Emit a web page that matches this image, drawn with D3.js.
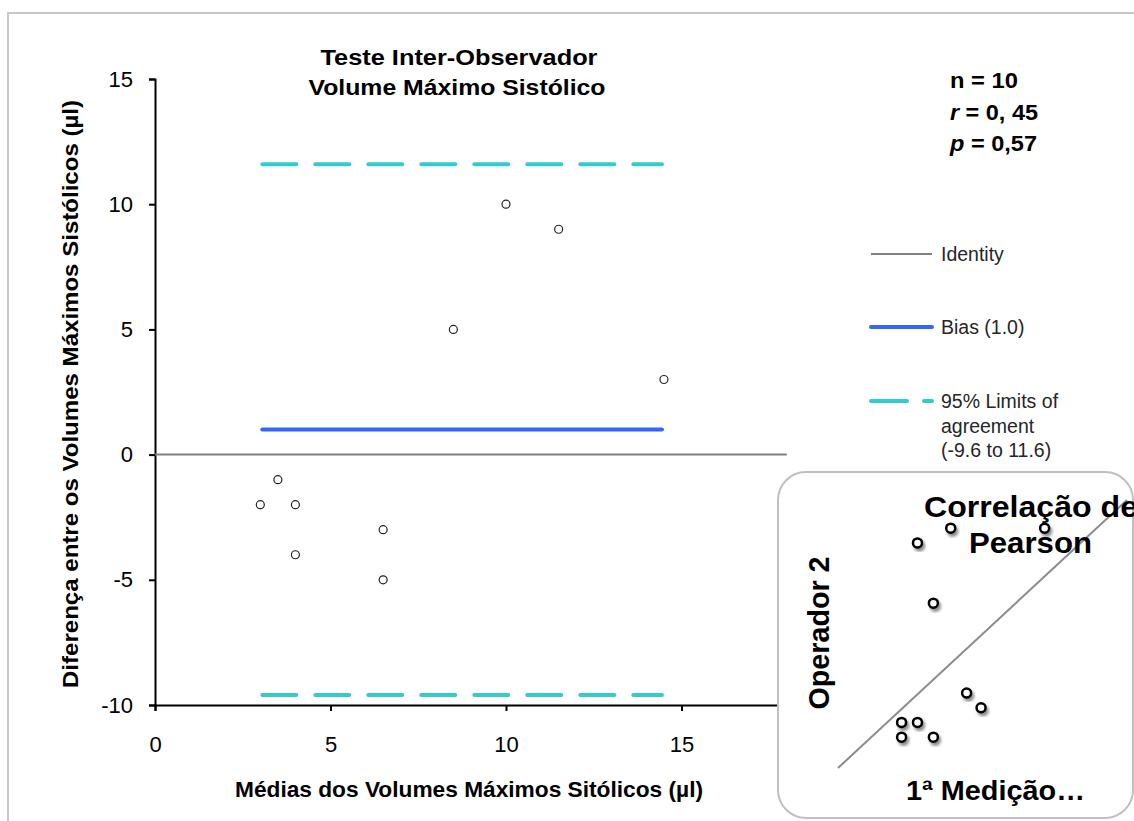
<!DOCTYPE html>
<html>
<head>
<meta charset="utf-8">
<script src="https://cdn.jsdelivr.net/npm/d3@7"></script>
<style>
  body { margin: 0; background: #fff; }
  text { font-family: "Liberation Sans", Arial, sans-serif; }
</style>
</head>
<body>
<div class="chart"></div>
<script>
// setup svg dimensions
var svgWidth = 1134;
var svgHeight = 821;

// Bland-Altman data: means and differences
var means = [3, 3.5, 4, 4, 6.5, 6.5, 8.5, 10, 11.5, 14.5];
var diffs = [-2, -1, -2, -4, -3, -5, 5, 10, 9, 3];
var xTicks = [0, 5, 10, 15];
var yTicks = [-10, -5, 0, 5, 10, 15];
var bias = 1.0;
var lowerLimit = -9.6;
var upperLimit = 11.6;
var statsLines = [["n", " = 10"], ["r", " = 0, 45"], ["p", " = 0,57"]];

// inset correlation plot (operator 1 vs operator 2)
var op1 = [5.5, 7.8, 14.3, 6.6, 8.9, 9.9, 4.4, 5.5, 4.4, 6.6];
var op2 = [16.8, 17.9, 17.9, 12.3, 5.6, 4.5, 3.4, 3.4, 2.3, 2.3];

var svg = d3.select(".chart")
  .append("svg")
  .attr("width", svgWidth)
  .attr("height", svgHeight);

// bold labels in the original are wider than Liberation Sans, so stretch them
function boldText(sel, size, len) {
  return sel.style("font-size", size + "px")
    .style("font-weight", "bold")
    .attr("textLength", len)
    .attr("lengthAdjust", "spacingAndGlyphs");
}

// outer frame
svg.append("rect")
  .attr("x", 8).attr("y", 13)
  .attr("width", 1140).attr("height", 820)
  .attr("fill", "#fff")
  .attr("stroke", "#c8c8c8")
  .attr("stroke-width", 2);

// scales
var xScale = d3.scaleLinear().domain([0, 20]).range([155, 857]);
var yScale = d3.scaleLinear().domain([-10, 15]).range([705, 79]);

var chartGroup = svg.append("g");

// axes
var leftAxis = d3.axisLeft(yScale).tickValues(yTicks).tickSize(6).tickPadding(16)
  .tickFormat(function(d) { return d < 0 ? "-" + Math.abs(d) : d; });
var bottomAxis = d3.axisBottom(xScale).tickValues(xTicks).tickSize(6).tickPadding(25);

var yAxis = chartGroup.append("g")
  .attr("transform", "translate(" + xScale(0) + ",0)")
  .call(leftAxis);
var xAxis = chartGroup.append("g")
  .attr("transform", "translate(0," + yScale(-10) + ")")
  .call(bottomAxis);

[xAxis, yAxis].forEach(function(ax) {
  ax.select(".domain").attr("stroke", "#000").attr("stroke-width", 2);
  ax.selectAll(".tick line").attr("stroke", "#000").attr("stroke-width", 2);
  ax.selectAll(".tick text")
    .attr("fill", "#000")
    .style("font-size", "22px")
    .style("font-family", "'Liberation Sans', Arial, sans-serif");
});

// identity line at 0
chartGroup.append("line")
  .attr("x1", xScale(0)).attr("x2", xScale(18))
  .attr("y1", yScale(0)).attr("y2", yScale(0))
  .attr("stroke", "#808080")
  .attr("stroke-width", 2);

var xMin = d3.min(means), xMax = d3.max(means);

// limits of agreement
[upperLimit, lowerLimit].forEach(function(v) {
  chartGroup.append("line")
    .attr("x1", xScale(xMin) + 2).attr("x2", xScale(xMax) - 2)
    .attr("y1", yScale(v)).attr("y2", yScale(v))
    .attr("stroke", "#33cccc")
    .attr("stroke-width", 4)
    .attr("stroke-linecap", "round")
    .attr("stroke-dasharray", "34,19");
});

// bias line
chartGroup.append("line")
  .attr("x1", xScale(xMin) + 2).attr("x2", xScale(xMax) - 2)
  .attr("y1", yScale(bias)).attr("y2", yScale(bias))
  .attr("stroke", "#3366ff")
  .attr("stroke-width", 4)
  .attr("stroke-linecap", "round");

// points
chartGroup.selectAll("circle.pt")
  .data(means)
  .enter()
  .append("circle")
  .attr("class", "pt")
  .attr("cx", function(d) { return xScale(d); })
  .attr("cy", function(d, i) { return yScale(diffs[i]); })
  .attr("r", 4)
  .attr("fill", "#fff")
  .attr("stroke", "#222")
  .attr("stroke-width", 1.2);

// title
boldText(svg.append("text").attr("x", 459).attr("y", 65).attr("text-anchor", "middle"), 22, 277)
  .text("Teste Inter-Observador");
boldText(svg.append("text").attr("x", 457).attr("y", 95).attr("text-anchor", "middle"), 22, 297)
  .text("Volume Máximo Sistólico");

// axis titles
boldText(svg.append("text").attr("x", 469).attr("y", 797).attr("text-anchor", "middle"), 22, 468)
  .text("Médias dos Volumes Máximos Sitólicos (µl)");

boldText(svg.append("text")
  .attr("transform", "translate(78,394) rotate(-90)")
  .attr("text-anchor", "middle"), 22.5, 588)
  .text("Diferença entre os Volumes Máximos Sistólicos (µl)");

// stats block
var statsLen = [68, 88, 87];
statsLines.forEach(function(s, i) {
  var t = boldText(svg.append("text")
    .attr("x", 950)
    .attr("y", 88 + i * 31.5), 22, statsLen[i]);
  t.append("tspan").style("font-style", i === 0 ? "normal" : "italic").text(s[0]);
  t.append("tspan").text(s[1]);
});

// legend
var legend = svg.append("g");
var legendItems = [
  { y: 254, color: "#808080", width: 2, dash: null, cap: "butt", label: ["Identity"] },
  { y: 327, color: "#3366ff", width: 4, dash: null, cap: "round", label: ["Bias (1.0)"] },
  { y: 401, color: "#33cccc", width: 4, dash: "36,17", cap: "round", label: ["95% Limits of", "agreement", "(-9.6 to 11.6)"] }
];
legendItems.forEach(function(item) {
  legend.append("line")
    .attr("x1", 871).attr("x2", 932)
    .attr("y1", item.y).attr("y2", item.y)
    .attr("stroke", item.color)
    .attr("stroke-width", item.width)
    .attr("stroke-linecap", item.cap)
    .attr("stroke-dasharray", item.dash);
  item.label.forEach(function(l, j) {
    legend.append("text")
      .attr("x", 941)
      .attr("y", item.y + 7 + j * 24.5)
      .style("font-size", "19.5px")
      .attr("fill", "#262626")
      .text(l);
  });
});

// inset: correlation plot
var defs = svg.append("defs");
var shadow = defs.append("filter").attr("id", "shadow")
  .attr("x", "-50%").attr("y", "-50%").attr("width", "200%").attr("height", "200%");
shadow.append("feDropShadow")
  .attr("dx", 2).attr("dy", 3)
  .attr("stdDeviation", 1.5)
  .attr("flood-color", "#000")
  .attr("flood-opacity", 0.45);

var inset = svg.append("g");
inset.append("rect")
  .attr("x", 778).attr("y", 472)
  .attr("width", 355).attr("height", 346)
  .attr("rx", 28).attr("ry", 28)
  .attr("fill", "#fff")
  .attr("stroke", "#c0c0c0")
  .attr("stroke-width", 2);

var ixScale = d3.scaleLinear().domain([0, 20]).range([838, 1127]);
var iyScale = d3.scaleLinear().domain([0, 20]).range([768, 500]);

inset.append("line")
  .attr("x1", ixScale(0)).attr("y1", iyScale(0))
  .attr("x2", ixScale(20)).attr("y2", iyScale(20))
  .attr("stroke", "#8c8c8c")
  .attr("stroke-width", 2);

boldText(inset.append("text").attr("x", 924).attr("y", 517), 30, 214)
  .text("Correlação de");
boldText(inset.append("text").attr("x", 969).attr("y", 553), 30, 123)
  .text("Pearson");

inset.selectAll("circle.ip")
  .data(op1)
  .enter()
  .append("circle")
  .attr("class", "ip")
  .attr("cx", function(d) { return ixScale(d); })
  .attr("cy", function(d, i) { return iyScale(op2[i]); })
  .attr("r", 4.5)
  .attr("fill", "#fff")
  .attr("stroke", "#000")
  .attr("stroke-width", 2.5)
  .attr("filter", "url(#shadow)");

boldText(inset.append("text")
  .attr("transform", "translate(829,633) rotate(-90)")
  .attr("text-anchor", "middle"), 29, 153)
  .text("Operador 2");

boldText(inset.append("text").attr("x", 906).attr("y", 800), 28, 179)
  .text("1ª Medição…");
</script>
</body>
</html>
